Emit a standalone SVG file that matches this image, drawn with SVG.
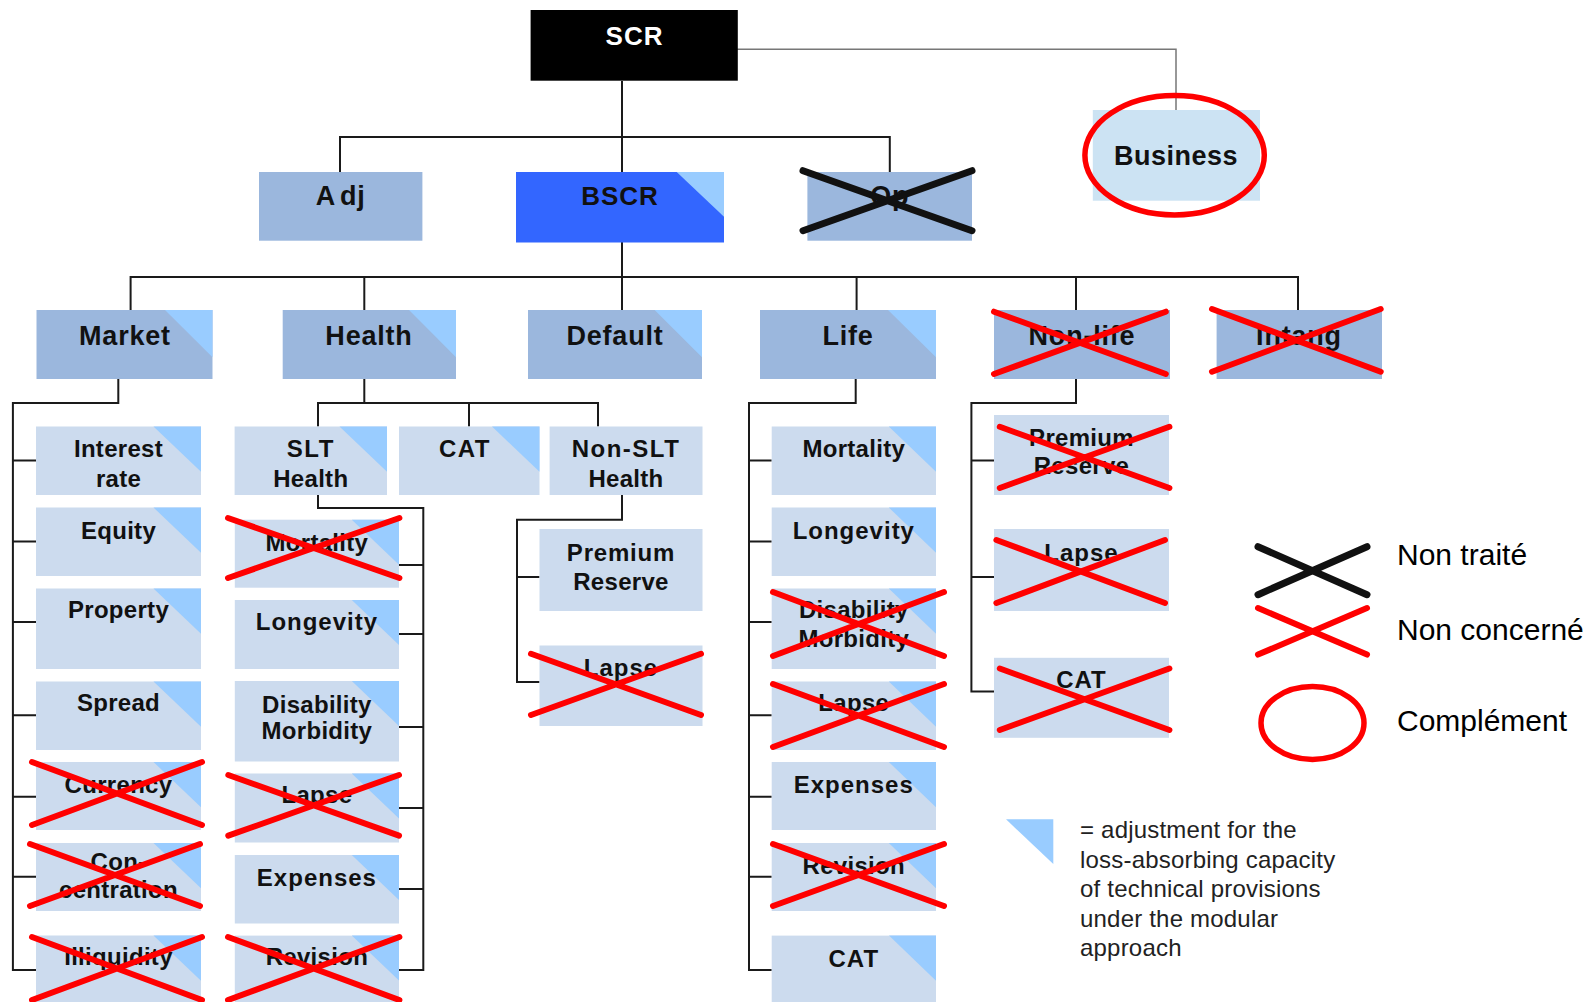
<svg xmlns="http://www.w3.org/2000/svg" width="1592" height="1002" viewBox="0 0 1592 1002">
<style>
.l2{fill:#9bb7dd}
.l3{fill:#ccdbee}
.tri{fill:#99ccff}
.t{font-family:"Liberation Sans",Arial,sans-serif;font-weight:bold;font-size:24px;text-anchor:middle;fill:#111;letter-spacing:0.3px}
.tb{font-family:"Liberation Sans",Arial,sans-serif;font-weight:bold;font-size:27px;text-anchor:middle;fill:#111;letter-spacing:0.8px}
.lg{font-family:"Liberation Sans",Arial,sans-serif;font-size:30px;fill:#000}
.note{font-family:"Liberation Sans",Arial,sans-serif;font-size:24px;fill:#222;letter-spacing:0.2px}
.xr{stroke:#ff0000;stroke-width:6;stroke-linecap:round;fill:none}
.xb{stroke:#111;stroke-width:7;stroke-linecap:round;fill:none}
.conn path{stroke:#1a1a1a;stroke-width:2;fill:none}
</style>
<rect width="1592" height="1002" fill="#ffffff"/>

<g id="connectors" class="conn">
  <path d="M730 49.3H1176V110" style="stroke:#777;stroke-width:1.5"/>
  <path d="M622 81V172"/>
  <path d="M340 172V137H889.8V172"/>
  <path d="M622 242V310"/>
  <path d="M130.6 310V277H1298V310"/>
  <path d="M364.3 277V310"/>
  <path d="M856.6 277V310"/>
  <path d="M1076 277V310"/>
  <!-- Market -->
  <path d="M118.3 379V403H12.9V970H36"/>
  <path d="M12.9 460.6H36M12.9 541.5H36M12.9 622H36M12.9 715.3H36M12.9 796.7H36M12.9 876.8H36"/>
  <!-- Health -->
  <path d="M364.3 379V403"/>
  <path d="M318 426.5V403H598V426.5M469 403V426.5"/>
  <path d="M318 495V508H423.3V970H399"/>
  <path d="M423.3 565H399M423.3 634H399M423.3 727H399M423.3 808H399M423.3 889H399"/>
  <path d="M622 495V519.7H517V682H539.5M517 577H539.5"/>
  <!-- Life -->
  <path d="M855.7 379V403H749V970H771.7"/>
  <path d="M749 460.6H771.7M749 541.5H771.7M749 622H771.7M749 715.3H771.7M749 796.7H771.7M749 876.8H771.7"/>
  <!-- Non-life -->
  <path d="M1076 379V403H971.4V691.5H994M971.4 460.6H994M971.4 577H994"/>
</g>

<g id="scr">
  <rect x="530.6" y="10" width="207.2" height="70.7" fill="#000"/>
  <text x="634.5" y="45" class="tb" style="fill:#fff;font-size:26px;letter-spacing:1px">SCR</text>
</g>

<g id="business">
  <rect x="1092.8" y="110" width="167.2" height="90.7" fill="#cce3f3"/>
  <text x="1176" y="165" class="tb" style="letter-spacing:0.5px">Business</text>
  <ellipse cx="1174.6" cy="155.2" rx="89.7" ry="59.7" fill="none" stroke="#ff0000" stroke-width="5.5"/>
</g>

<g id="adj">
  <rect x="259" y="172" width="163.4" height="68.7" class="l2"/>
  <text x="340.7" y="205" class="tb">A<tspan dx="4">dj</tspan></text>
</g>

<g id="bscr">
  <rect x="516" y="172" width="208" height="70.5" fill="#3366ff"/>
  <polygon points="676.7,172 724,172 724,216.7" class="tri"/>
  <text x="620" y="205" class="tb" style="font-size:26px;letter-spacing:1px">BSCR</text>
</g>

<g id="op">
  <rect x="807.4" y="172" width="164.6" height="68.7" class="l2"/>
  <text x="889.7" y="205" class="tb">Op</text>
  <path d="M803 170.7L972 230.7M803 230.7L972 170.7" class="xb"/>
</g>

<g id="market">
  <rect x="36.5" y="310" width="176" height="69" class="l2"/>
  <polygon points="165,310 212.5,310 212.5,357.3" class="tri"/>
  <text x="125" y="345" class="tb">Market</text>
</g>
<g id="health">
  <rect x="282.7" y="310" width="173.3" height="69" class="l2"/>
  <polygon points="409,310 456,310 456,357.3" class="tri"/>
  <text x="369" y="345" class="tb">Health</text>
</g>
<g id="default">
  <rect x="528" y="310" width="174" height="69" class="l2"/>
  <polygon points="654.6,310 702,310 702,357.3" class="tri"/>
  <text x="615" y="345" class="tb">Default</text>
</g>
<g id="life">
  <rect x="760" y="310" width="176" height="69" class="l2"/>
  <polygon points="888,310 936,310 936,357.3" class="tri"/>
  <text x="848" y="345" class="tb">Life</text>
</g>
<g id="nonlife">
  <rect x="994" y="310" width="176" height="69" class="l2"/>
  <text x="1082" y="345" class="tb">Non-life</text>
  <path d="M994 311.7L1165.8 374M994 374L1165.8 311.7" class="xr"/>
</g>
<g id="intang">
  <rect x="1216.6" y="310" width="165.4" height="69" class="l2"/>
  <text x="1299" y="345" class="tb">Intang</text>
  <path d="M1212 309L1380.7 371.7M1212 371.7L1380.7 309" class="xr"/>
</g>

<!-- Market children -->
<g id="mk-interest">
  <rect x="36" y="426.5" width="165" height="68.5" class="l3"/>
  <polygon points="153.5,426.5 201,426.5 201,471.7" class="tri"/>
  <text x="118.5" y="457.3" class="t">Interest</text>
  <text x="118.5" y="486.7" class="t">rate</text>
</g>
<g id="mk-equity">
  <rect x="36" y="507.5" width="165" height="68.5" class="l3"/>
  <polygon points="153.5,507.5 201,507.5 201,552.7" class="tri"/>
  <text x="118.5" y="538.7" class="t">Equity</text>
</g>
<g id="mk-property">
  <rect x="36" y="588.5" width="165" height="80.5" class="l3"/>
  <polygon points="153.5,588.5 201,588.5 201,633.7" class="tri"/>
  <text x="118.5" y="618" class="t">Property</text>
</g>
<g id="mk-spread">
  <rect x="36" y="681.5" width="165" height="68.5" class="l3"/>
  <polygon points="153.5,681.5 201,681.5 201,726.7" class="tri"/>
  <text x="118.5" y="711.3" class="t">Spread</text>
</g>
<g id="mk-currency">
  <rect x="36" y="762" width="165" height="68" class="l3"/>
  <polygon points="153.5,762 201,762 201,807.2" class="tri"/>
  <text x="118.5" y="792.7" class="t">Currency</text>
  <path d="M32 762L202 825M32 825L202 762" class="xr"/>
</g>
<g id="mk-concentration">
  <rect x="36" y="843" width="165" height="68" class="l3"/>
  <polygon points="153.5,843 201,843 201,888.2" class="tri"/>
  <text x="118.5" y="870" class="t">Con-</text>
  <text x="118.5" y="898" class="t">centration</text>
  <path d="M30 844L200 906M30 906L200 844" class="xr"/>
</g>
<g id="mk-illiquidity">
  <rect x="36" y="935.5" width="165" height="70" class="l3"/>
  <polygon points="153.5,935.5 201,935.5 201,980.7" class="tri"/>
  <text x="118.5" y="965.3" class="t">Illiquidity</text>
  <path d="M32 937L202 1000M32 1000L202 937" class="xr"/>
</g>

<!-- Health children -->
<g id="h-slt">
  <rect x="234.6" y="426.5" width="152.4" height="68.5" class="l3"/>
  <polygon points="339.5,426.5 387,426.5 387,471.7" class="tri"/>
  <text x="310.8" y="457.4" class="t" style="letter-spacing:1.5px">SLT</text>
  <text x="310.8" y="487" class="t">Health</text>
</g>
<g id="h-cat">
  <rect x="399" y="426.5" width="140.5" height="68.5" class="l3"/>
  <polygon points="492,426.5 539.5,426.5 539.5,471.7" class="tri"/>
  <text x="465" y="457.4" class="t" style="letter-spacing:1.5px">CAT</text>
</g>
<g id="h-nonslt">
  <rect x="549.6" y="426.5" width="152.9" height="68.5" class="l3"/>
  <text x="626" y="457.4" class="t" style="letter-spacing:1.5px">Non-SLT</text>
  <text x="626" y="487" class="t">Health</text>
</g>

<g id="slt-mortality">
  <rect x="234.8" y="519.7" width="164.2" height="68" class="l3"/>
  <polygon points="351.8,519.7 399,519.7 399,564.7" class="tri"/>
  <text x="316.9" y="550.6" class="t">Mortality</text>
  <path d="M228 518L399.4 578M228 578L399.4 518" class="xr"/>
</g>
<g id="slt-longevity">
  <rect x="234.8" y="600" width="164.2" height="69" class="l3"/>
  <polygon points="351.8,600 399,600 399,645" class="tri"/>
  <text x="316.9" y="630" class="t" style="letter-spacing:1px">Longevity</text>
</g>
<g id="slt-disability">
  <rect x="234.8" y="681" width="164.2" height="80.5" class="l3"/>
  <polygon points="351.8,681 399,681 399,726" class="tri"/>
  <text x="316.9" y="712.7" class="t">Disability</text>
  <text x="316.9" y="739" class="t">Morbidity</text>
</g>
<g id="slt-lapse">
  <rect x="234.8" y="773.5" width="164.2" height="69" class="l3"/>
  <polygon points="351.8,773.5 399,773.5 399,818.5" class="tri"/>
  <text x="316.9" y="802.6" class="t">Lapse</text>
  <path d="M228.3 775L399 835.7M228.3 835.7L399 775" class="xr"/>
</g>
<g id="slt-expenses">
  <rect x="234.8" y="855" width="164.2" height="68.5" class="l3"/>
  <polygon points="351.8,855 399,855 399,900" class="tri"/>
  <text x="316.9" y="886" class="t" style="letter-spacing:1px">Expenses</text>
</g>
<g id="slt-revision">
  <rect x="234.8" y="935.6" width="164.2" height="70" class="l3"/>
  <polygon points="351.8,935.6 399,935.6 399,980.6" class="tri"/>
  <text x="316.9" y="965.3" class="t">Revision</text>
  <path d="M228 937L399.4 1000M228 1000L399.4 937" class="xr"/>
</g>

<g id="nslt-premium">
  <rect x="539.5" y="529" width="163" height="82" class="l3"/>
  <text x="621" y="560.6" class="t" style="letter-spacing:0.8px">Premium</text>
  <text x="621" y="589.5" class="t">Reserve</text>
</g>
<g id="nslt-lapse">
  <rect x="539.5" y="645.5" width="163" height="80.5" class="l3"/>
  <text x="621" y="675.6" class="t" style="letter-spacing:1px">Lapse</text>
  <path d="M531 653.8L701 715M531 715L701 653.8" class="xr"/>
</g>

<!-- Life children -->
<g id="life-mortality">
  <rect x="771.7" y="426.5" width="164.3" height="68.5" class="l3"/>
  <polygon points="888.8,426.5 936,426.5 936,471.7" class="tri"/>
  <text x="853.8" y="457.3" class="t">Mortality</text>
</g>
<g id="life-longevity">
  <rect x="771.7" y="507.5" width="164.3" height="68.5" class="l3"/>
  <polygon points="888.8,507.5 936,507.5 936,552.7" class="tri"/>
  <text x="853.8" y="538.7" class="t" style="letter-spacing:1px">Longevity</text>
</g>
<g id="life-disability">
  <rect x="771.7" y="588.5" width="164.3" height="80.5" class="l3"/>
  <polygon points="888.8,588.5 936,588.5 936,633.7" class="tri"/>
  <text x="853.8" y="618" class="t">Disability</text>
  <text x="853.8" y="647" class="t">Morbidity</text>
  <path d="M773 592L944 656M773 656L944 592" class="xr"/>
</g>
<g id="life-lapse">
  <rect x="771.7" y="681.5" width="164.3" height="68.5" class="l3"/>
  <polygon points="888.8,681.5 936,681.5 936,726.7" class="tri"/>
  <text x="853.8" y="711" class="t">Lapse</text>
  <path d="M773 684L944 747M773 747L944 684" class="xr"/>
</g>
<g id="life-expenses">
  <rect x="771.7" y="762" width="164.3" height="68" class="l3"/>
  <polygon points="888.8,762 936,762 936,807.2" class="tri"/>
  <text x="853.8" y="792.7" class="t" style="letter-spacing:1px">Expenses</text>
</g>
<g id="life-revision">
  <rect x="771.7" y="843" width="164.3" height="68" class="l3"/>
  <polygon points="888.8,843 936,843 936,888.2" class="tri"/>
  <text x="853.8" y="874" class="t">Revision</text>
  <path d="M773 844L944 906M773 906L944 844" class="xr"/>
</g>
<g id="life-cat">
  <rect x="771.7" y="935.6" width="164.3" height="70" class="l3"/>
  <polygon points="889,935.6 936,935.6 936,980.7" class="tri"/>
  <text x="853.8" y="966.7" class="t" style="letter-spacing:1px">CAT</text>
</g>

<!-- Non-life children -->
<g id="nl-premium">
  <rect x="994" y="415" width="175" height="80" class="l3"/>
  <text x="1081.5" y="445.5" class="t">Premium</text>
  <text x="1081.5" y="474.4" class="t">Reserve</text>
  <path d="M999.8 426.8L1169.4 488M999.8 488L1169.4 426.8" class="xr"/>
</g>
<g id="nl-lapse">
  <rect x="994" y="529" width="175" height="82" class="l3"/>
  <text x="1081.5" y="560.6" class="t" style="letter-spacing:1px">Lapse</text>
  <path d="M996.4 540L1165 603M996.4 603L1165 540" class="xr"/>
</g>
<g id="nl-cat">
  <rect x="994" y="657.8" width="175" height="80" class="l3"/>
  <text x="1081.5" y="687.5" class="t" style="letter-spacing:1px">CAT</text>
  <path d="M999.8 668.5L1169.4 730M999.8 730L1169.4 668.5" class="xr"/>
</g>

<!-- Legend -->
<g id="legend">
  <path d="M1258 546.7L1367 594.7M1258 594.7L1367 546.7" class="xb"/>
  <text x="1397" y="564.5" class="lg">Non traité</text>
  <path d="M1258 608L1367 654.6M1258 654.6L1367 608" class="xr"/>
  <text x="1397" y="640" class="lg">Non concerné</text>
  <ellipse cx="1312.5" cy="723" rx="51.5" ry="36.5" fill="none" stroke="#ff0000" stroke-width="5.5"/>
  <text x="1397" y="731" class="lg">Complément</text>
  <polygon points="1006,819.3 1053.3,819.3 1053.3,864" class="tri"/>
  <text class="note">
    <tspan x="1080" y="838.3">= adjustment for the</tspan>
    <tspan x="1080" y="867.7">loss-absorbing capacity</tspan>
    <tspan x="1080" y="897.3">of technical provisions</tspan>
    <tspan x="1080" y="926.7">under the modular</tspan>
    <tspan x="1080" y="955.7">approach</tspan>
  </text>
</g>
</svg>
